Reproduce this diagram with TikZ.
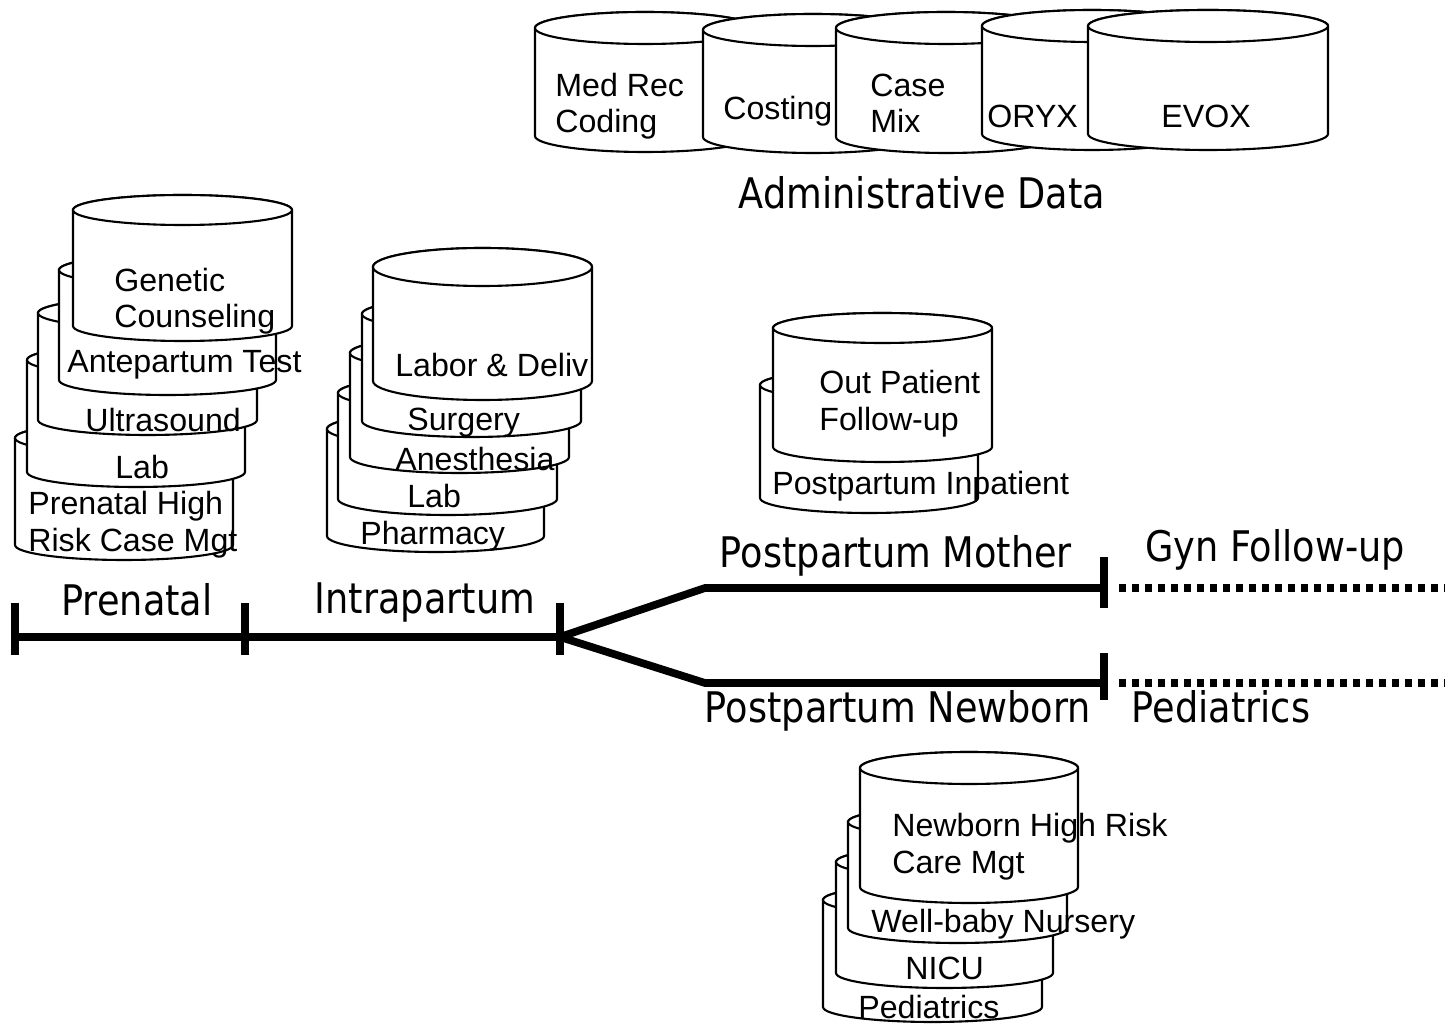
\documentclass[tikz,border=0pt]{standalone}
\usepackage{fontspec}
\setmainfont{Liberation Sans}
\newfontfamily\phasefont{DejaVu Sans}[FakeStretch=0.87]

% A database drum: left x, width, top-centre y, bottom-centre y, end radius
% (y values are measured downwards)
\newcommand\drum[5]{%
  \pgfmathsetmacro\drL{#1}%
  \pgfmathsetmacro\drR{#1+#2}%
  \pgfmathsetmacro\drC{#1+#2/2}%
  \pgfmathsetmacro\drA{#2/2}%
  \pgfmathsetmacro\drT{-(#3)}%
  \pgfmathsetmacro\drB{-(#4)}%
  \filldraw[drum] (\drL,\drT) -- (\drL,\drB)
    arc[start angle=180,end angle=360,x radius=\drA,y radius=#5]
    -- (\drR,\drT)
    arc[start angle=0,end angle=180,x radius=\drA,y radius=#5] -- cycle;
  \draw[drum] (\drC,\drT) ellipse[x radius=\drA,y radius=#5];
}

\tikzset{
  drum/.style={line width=1.2pt, draw=black, fill=white},
  dbtext/.style={font=\fontsize{18.3}{21}\selectfont, anchor=base west, inner sep=0pt},
  phase/.style={font=\phasefont\fontsize{24}{28}\selectfont, anchor=base, inner sep=0pt},
  timeline/.style={line width=4.4pt, line join=miter},
  tickmark/.style={line width=4.4pt},
  later/.style={line width=4.4pt, dash pattern=on 4pt off 3.4pt},
}

\begin{document}
\begin{tikzpicture}[x=0.02cm, y=0.02cm]
\useasboundingbox (0,0) rectangle (1445,-1026);

% ---------- administrative data ----------
\drum{535}{220}{28}{136}{16}
\node[dbtext] (medrec1) at (555,-97) {Med Rec};
\node[dbtext] (medrec2) at (555,-133) {Coding};
\drum{703}{220}{30}{137}{16}
\node[dbtext] (costing) at (723,-120) {Costing};
\drum{836}{220}{28}{137}{16}
\node[dbtext] (casemix1) at (870,-97) {Case};
\node[dbtext] (casemix2) at (870,-133) {Mix};
\drum{982}{220}{26}{134}{16}
\node[dbtext] (oryx) at (987,-128) {ORYX};
\drum{1088}{240}{26}{134}{16}
\node[dbtext] (evox) at (1161,-128) {EVOX};
\node[phase] (admin) at (922,-209) {Administrative Data};

% ---------- prenatal databases ----------
\drum{15}{218}{438}{545}{15}
\node[dbtext] (hr1) at (28,-515) {Prenatal High};
\node[dbtext] (hr2) at (28,-552) {Risk Case Mgt};
\drum{27}{218}{360}{472}{15}
\node[dbtext] (prelab) at (115,-479) {Lab};
\drum{38}{219}{313}{420}{15}
\node[dbtext] (ultra) at (85,-432) {Ultrasound};
\drum{59}{217}{270}{380}{15}
\node[dbtext] (ante) at (67,-373) {Antepartum Test};
\drum{73}{219}{210}{326}{15}
\node[dbtext] (gen1) at (114,-292) {Genetic};
\node[dbtext] (gen2) at (114,-328) {Counseling};

% ---------- intrapartum databases ----------
\drum{327}{217}{429}{536}{16}
\node[dbtext] (pharm) at (360,-545) {Pharmacy};
\drum{338}{219}{393}{499}{16}
\node[dbtext] (intlab) at (407,-508) {Lab};
\drum{350}{219}{353}{457}{16}
\node[dbtext] (anes) at (395,-471) {Anesthesia};
\drum{362}{219}{314}{421}{16}
\node[dbtext] (surg) at (407,-431) {Surgery};
\drum{373}{219}{267}{381}{19}
\node[dbtext] (ld) at (395,-377) {Labor \& Deliv};

% ---------- postpartum mother databases ----------
\drum{760}{218}{385}{498}{15}
\node[dbtext] (inpat) at (772,-495) {Postpartum Inpatient};
\drum{773}{219}{328}{447}{15}
\node[dbtext] (outpat1) at (819,-394) {Out Patient};
\node[dbtext] (outpat2) at (819,-431) {Follow-up};

% ---------- newborn databases ----------
\drum{823}{219}{900}{1007}{15}
\node[dbtext] (peddb) at (858,-1019) {Pediatrics};
\drum{836}{217}{862}{973}{15}
\node[dbtext] (nicu) at (905,-980) {NICU};
\drum{848}{219}{822}{928}{15}
\node[dbtext] (well) at (871,-933) {Well-baby Nursery};
\drum{860}{218}{768}{887}{16}
\node[dbtext] (nhr1) at (892,-837) {Newborn High Risk};
\node[dbtext] (nhr2) at (892,-874) {Care Mgt};

% ---------- care timeline ----------
\coordinate (t0) at (15,-637);
\coordinate (t1) at (245,-637);
\coordinate (t2) at (560,-637);
\coordinate (m1) at (705,-588);
\coordinate (m2) at (1104,-588);
\coordinate (mend) at (1445,-588);
\coordinate (n1) at (705,-683);
\coordinate (n2) at (1104,-683);
\coordinate (nend) at (1445,-683);

\draw[timeline] (t0) -- (t1) -- (t2);
\draw[timeline] (t2) -- (m1) -- (m2);
\draw[timeline] (t2) -- (n1) -- (n2);
\draw[later] ([xshift=0.3cm]m2) -- (mend);
\draw[later] ([xshift=0.3cm]n2) -- (nend);

\foreach \c in {t0,t1,t2}
  \draw[tickmark] ([yshift=0.68cm]\c) -- ([yshift=-0.36cm]\c);
\draw[tickmark] ([yshift=0.62cm]m2) -- ([yshift=-0.4cm]m2);
\draw[tickmark] ([yshift=0.6cm]n2) -- ([yshift=-0.34cm]n2);

\node[phase] (prenatal) at (137,-616) {Prenatal};
\node[phase] (intra) at (425,-614) {Intrapartum};
\node[phase] (mother) at (896,-568) {Postpartum Mother};
\node[phase] (gyn) at (1275,-562) {Gyn Follow-up};
\node[phase] (newborn) at (898,-723) {Postpartum Newborn};
\node[phase] (peds) at (1221,-723) {Pediatrics};
\end{tikzpicture}
\end{document}
